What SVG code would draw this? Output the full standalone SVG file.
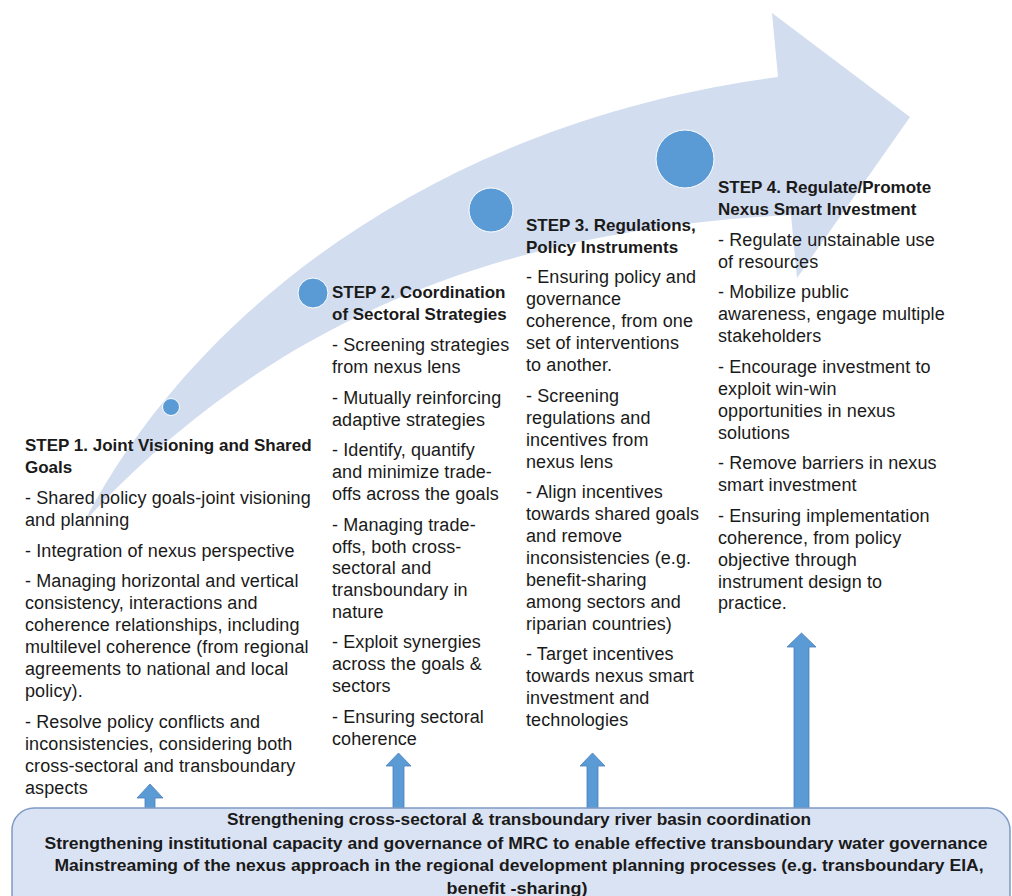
<svg xmlns="http://www.w3.org/2000/svg" width="1012" height="896" viewBox="0 0 1012 896">
  <style>
    .head { font-family: "Liberation Sans", Arial, sans-serif; font-weight: bold; font-size: 17px; fill: #1a1a1a; }
    .body { font-family: "Liberation Sans", Arial, sans-serif; font-size: 18px; letter-spacing: 0.1px; fill: #1a1a1a; }
    .base { font-family: "Liberation Sans", Arial, sans-serif; font-weight: bold; font-size: 16px; fill: #1a1a1a; }
    .dot { fill: #5B9BD5; stroke: #ffffff; stroke-width: 1; }
    .up { fill: #5B9BD5; stroke: #4A7EBB; stroke-width: 0.8; }
  </style>

  <rect width="1012" height="896" fill="#ffffff"/>

  <!-- curved progress arrow -->
  <g id="progress-arrow">
    <path d="M 84,522 C 200,300 450,120 778,77 L 772,13 L 910,117 L 797,278 L 791,215 C 500,230 270,320 84,522 Z" fill="#D2DDEF"/>
    <circle class="dot" cx="171" cy="407" r="8.5"/>
    <circle class="dot" cx="313" cy="293" r="15"/>
    <circle class="dot" cx="491" cy="210" r="22"/>
    <circle class="dot" cx="685" cy="159" r="29"/>
  </g>

  <!-- step 1 -->
  <g id="step1">
    <text class="head" x="25" y="451">STEP 1. Joint Visioning and Shared</text>
    <text class="head" x="25" y="473">Goals</text>
    <text class="body" x="25" y="504">- Shared policy goals-joint visioning</text>
    <text class="body" x="25" y="526">and planning</text>
    <text class="body" x="25" y="557">- Integration of nexus perspective</text>
    <text class="body" x="25" y="587">- Managing horizontal  and vertical</text>
    <text class="body" x="25" y="609">consistency, interactions and</text>
    <text class="body" x="25" y="631">coherence  relationships, including</text>
    <text class="body" x="25" y="653">multilevel coherence (from regional</text>
    <text class="body" x="25" y="675">agreements to national and local</text>
    <text class="body" x="25" y="697">policy).</text>
    <text class="body" x="25" y="728">- Resolve policy conflicts and</text>
    <text class="body" x="25" y="750">inconsistencies, considering both</text>
    <text class="body" x="25" y="772">cross-sectoral and transboundary</text>
    <text class="body" x="25" y="794">aspects</text>
  </g>

  <!-- step 2 -->
  <g id="step2">
    <text class="head" x="332" y="298">STEP 2. Coordination</text>
    <text class="head" x="332" y="320">of Sectoral Strategies</text>
    <text class="body" x="332" y="351">- Screening strategies</text>
    <text class="body" x="332" y="373">from  nexus lens</text>
    <text class="body" x="332" y="404">- Mutually reinforcing</text>
    <text class="body" x="332" y="426">adaptive strategies</text>
    <text class="body" x="332" y="456">- Identify, quantify</text>
    <text class="body" x="332" y="478">and minimize trade-</text>
    <text class="body" x="332" y="500">offs across the goals</text>
    <text class="body" x="332" y="531">- Managing trade-</text>
    <text class="body" x="332" y="553">offs, both cross-</text>
    <text class="body" x="332" y="574">sectoral and</text>
    <text class="body" x="332" y="596">transboundary  in</text>
    <text class="body" x="332" y="618">nature</text>
    <text class="body" x="332" y="648">- Exploit synergies</text>
    <text class="body" x="332" y="670">across the goals &amp;</text>
    <text class="body" x="332" y="692">sectors</text>
    <text class="body" x="332" y="723">- Ensuring sectoral</text>
    <text class="body" x="332" y="745">coherence</text>
  </g>

  <!-- step 3 -->
  <g id="step3">
    <text class="head" x="526" y="231">STEP 3. Regulations,</text>
    <text class="head" x="526" y="253">Policy Instruments</text>
    <text class="body" x="526" y="283">- Ensuring policy and</text>
    <text class="body" x="526" y="305">governance</text>
    <text class="body" x="526" y="327">coherence,  from one</text>
    <text class="body" x="526" y="349">set of interventions</text>
    <text class="body" x="526" y="371">to another.</text>
    <text class="body" x="526" y="402">- Screening</text>
    <text class="body" x="526" y="424">regulations and</text>
    <text class="body" x="526" y="446">incentives from</text>
    <text class="body" x="526" y="468">nexus lens</text>
    <text class="body" x="526" y="498">- Align incentives</text>
    <text class="body" x="526" y="520">towards shared goals</text>
    <text class="body" x="526" y="542">and remove</text>
    <text class="body" x="526" y="564">inconsistencies (e.g.</text>
    <text class="body" x="526" y="586">benefit-sharing</text>
    <text class="body" x="526" y="608">among sectors and</text>
    <text class="body" x="526" y="630">riparian countries)</text>
    <text class="body" x="526" y="660">- Target incentives</text>
    <text class="body" x="526" y="682">towards nexus smart</text>
    <text class="body" x="526" y="704">investment and</text>
    <text class="body" x="526" y="726">technologies</text>
  </g>

  <!-- step 4 -->
  <g id="step4">
    <text class="head" x="718" y="193">STEP 4. Regulate/Promote</text>
    <text class="head" x="718" y="215">Nexus Smart Investment</text>
    <text class="body" x="718" y="246">- Regulate unstainable use</text>
    <text class="body" x="718" y="268">of resources</text>
    <text class="body" x="718" y="298">- Mobilize public</text>
    <text class="body" x="718" y="320">awareness, engage multiple</text>
    <text class="body" x="718" y="342">stakeholders</text>
    <text class="body" x="718" y="373">- Encourage investment to</text>
    <text class="body" x="718" y="395">exploit win-win</text>
    <text class="body" x="718" y="417">opportunities  in nexus</text>
    <text class="body" x="718" y="439">solutions</text>
    <text class="body" x="718" y="469">- Remove barriers in nexus</text>
    <text class="body" x="718" y="491">smart investment</text>
    <text class="body" x="718" y="522">- Ensuring implementation</text>
    <text class="body" x="718" y="544">coherence, from policy</text>
    <text class="body" x="718" y="566">objective through</text>
    <text class="body" x="718" y="588">instrument  design to</text>
    <text class="body" x="718" y="609">practice.</text>
  </g>

  <!-- upward connectors from the foundation box -->
  <g id="connectors">
    <path class="up" d="M 145,809 L 145,798 L 137,798 L 150,784 L 163,798 L 155,798 L 155,809 Z"/>
    <path class="up" d="M 393,809 L 393,766 L 386,766 L 398.5,753 L 411,766 L 404,766 L 404,809 Z"/>
    <path class="up" d="M 587,809 L 587,766 L 580,766 L 592.5,753 L 605,766 L 598,766 L 598,809 Z"/>
    <path class="up" d="M 794,809 L 794,647 L 787,647 L 801.5,633 L 816,647 L 809,647 L 809,809 Z"/>
  </g>

  <!-- foundation box -->
  <g id="foundation">
    <rect x="12" y="808" width="998" height="120" rx="22" ry="22" fill="#DAE3F3" stroke="#7F9BC6" stroke-width="1.5"/>
    <text class="base" x="519" y="825" text-anchor="middle" textLength="584" lengthAdjust="spacingAndGlyphs">Strengthening cross-sectoral &amp; transboundary river basin coordination</text>
    <text class="base" x="516" y="849" text-anchor="middle" textLength="943" lengthAdjust="spacingAndGlyphs">Strengthening institutional capacity and governance of MRC to enable effective transboundary water governance</text>
    <text class="base" x="519" y="871" text-anchor="middle" textLength="929" lengthAdjust="spacingAndGlyphs">Mainstreaming of the nexus approach in the regional development planning processes (e.g. transboundary EIA,</text>
    <text class="base" x="517" y="894" text-anchor="middle" textLength="141" lengthAdjust="spacingAndGlyphs">benefit -sharing)</text>
  </g>
</svg>
